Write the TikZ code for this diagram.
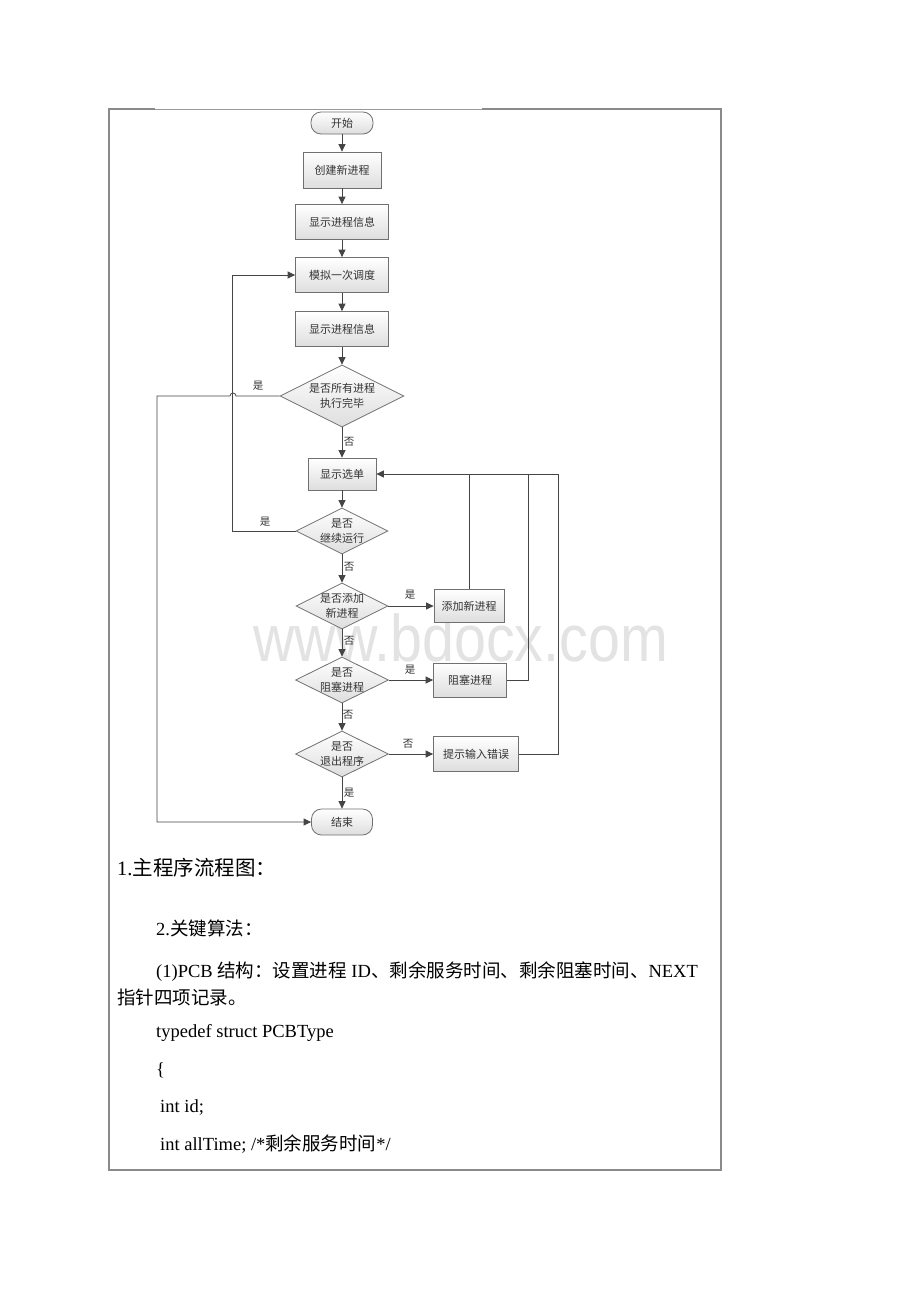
\documentclass[tikz,border=0pt]{standalone}
\usepackage{fontspec}
\setmainfont{Liberation Serif}
\newfontfamily\cjk{Noto Sans CJK SC}
\newfontfamily\wmfont{Liberation Sans}
\usetikzlibrary{shapes.geometric,arrows.meta}
\definecolor{ln}{HTML}{454545}
\definecolor{bd}{HTML}{707070}
\definecolor{wm}{HTML}{E3E3E3}
\definecolor{fr}{HTML}{8A8A8A}
\begin{document}
\begin{tikzpicture}[x=1pt,y=-1pt,
  flowbox/.style={draw=bd, line width=0.8pt, top color=white, bottom color=black!13, inner sep=0pt,
    font=\cjk\fontsize{11}{14.5}\selectfont, text=black!80, align=center},
  term/.style={flowbox, rounded corners=10pt},
  dec/.style={flowbox, diamond},
  dtext/.style={inner sep=0pt, font=\cjk\fontsize{11}{14.5}\selectfont, text=black!80, align=center},
  lbl/.style={inner sep=0pt, font=\cjk\fontsize{10.5}{12}\selectfont, text=black!80},
  conn/.style={draw=ln, line width=0.8pt},
  arr/.style={conn, -{Triangle[length=7.5pt,width=7pt]}},
  body/.style={anchor=base west, inner sep=0pt, font=\fontsize{18.5}{22}\selectfont}]
\useasboundingbox[fill=white] (0,0) rectangle (920,1302);

% watermark
\node[anchor=base west, inner sep=0pt, text=wm, font=\wmfont\fontsize{66}{66}\selectfont] (wmk) at (253,661) {\scalebox{0.87}[1]{www.bdocx.com}};

% frame
\draw[fr, line width=1.2pt] (109,109) rectangle (721,1170);
\draw[white, line width=1.4pt] (155,109) -- (482,109);
\draw[black!40, line width=0.7pt] (155,109) -- (482,109);

% nodes
\node[term, minimum width=62pt, minimum height=22pt] (start) at (342,123) {开始};
\node[flowbox, minimum width=78pt, minimum height=36pt] (b1) at (342,170) {创建新进程};
\node[flowbox, minimum width=93pt, minimum height=35pt] (b2) at (342,222) {显示进程信息};
\node[flowbox, minimum width=93pt, minimum height=35pt] (b3) at (342,275) {模拟一次调度};
\node[flowbox, minimum width=93pt, minimum height=35pt] (b4) at (342,329) {显示进程信息};
\node[dec, minimum width=124pt, minimum height=62pt] (d1) at (342,396) {};
\node[dtext] (d1t) at (d1) {是否所有进程\\执行完毕};
\node[flowbox, minimum width=68pt, minimum height=32pt] (menu) at (342,474) {显示选单};
\node[dec, minimum width=92pt, minimum height=46pt] (d2) at (342,531) {};
\node[dtext] (d2t) at (d2) {是否\\继续运行};
\node[dec, minimum width=92pt, minimum height=46pt] (d3) at (342,606) {};
\node[dtext] (d3t) at (d3) {是否添加\\新进程};
\node[flowbox, minimum width=70pt, minimum height=33pt] (add) at (469,606) {添加新进程};
\node[dec, minimum width=93pt, minimum height=46pt] (d4) at (342,680) {};
\node[dtext] (d4t) at (d4) {是否\\阻塞进程};
\node[flowbox, minimum width=73pt, minimum height=34pt] (blk) at (470,680) {阻塞进程};
\node[dec, minimum width=93pt, minimum height=46pt] (d5) at (342,754) {};
\node[dtext] (d5t) at (d5) {是否\\退出程序};
\node[flowbox, minimum width=85pt, minimum height=35pt] (err) at (476,754) {提示输入错误};
\node[term, minimum width=61pt, minimum height=26pt] (end) at (342,822) {结束};

% main flow
\draw[arr] (start) -- (b1);
\draw[arr] (b1) -- (b2);
\draw[arr] (b2) -- (b3);
\draw[arr] (b3) -- (b4);
\draw[arr] (b4) -- (d1);
\draw[arr] (d1) -- (menu);
\draw[arr] (menu) -- (d2);
\draw[arr] (d2) -- (d3);
\draw[arr] (d3) -- (add);
\draw[arr] (d3) -- (d4);
\draw[arr] (d4) -- (blk);
\draw[arr] (d4) -- (d5);
\draw[arr] (d5) -- (err);
\draw[arr] (d5) -- (end);

% loops
\draw[arr] (d2.west) -- ++(-63,0) |- (b3.west);
\draw[arr] (d1.west) -- (236,396) arc (0:180:3pt) -- (157,396) |- (end.west);
\coordinate (rB) at (528,474);
\draw[arr] (err.east) -- ++(39,0) |- (menu.east);
\draw[conn] (blk.east) -| (rB);
\draw[conn] (add.north) -- (add.north |- menu.east);

% labels
\node[lbl] (l1) at (258,386) {是};
\node[lbl] (l2) at (349,442) {否};
\node[lbl] (l3) at (265,522) {是};
\node[lbl] (l4) at (349,567) {否};
\node[lbl] (l5) at (410,595) {是};
\node[lbl] (l6) at (349,641) {否};
\node[lbl] (l7) at (410,670) {是};
\node[lbl] (l8) at (348,715) {否};
\node[lbl] (l9) at (408,744) {否};
\node[lbl] (l10) at (349,793) {是};

% body text
\node[body, font=\fontsize{20.5}{24}\selectfont] (t1) at (117,875) {1.{\cjk 主程序流程图：}};
\node[body] (t2) at (156,935) {2.{\cjk 关键算法：}};
\node[body] (t3) at (156,977) {(1)PCB {\cjk 结构：设置进程} ID{\cjk 、剩余服务时间、剩余阻塞时间、}NEXT};
\node[body] (t4) at (117,1004) {\cjk 指针四项记录。};
\node[body] (t5) at (156,1037) {typedef struct PCBType};
\node[body] (t6) at (156,1075) {\{};
\node[body] (t7) at (160,1112) {int id;};
\node[body] (t8) at (160,1150) {int allTime; /*{\cjk 剩余服务时间}*/};
\end{tikzpicture}
\end{document}
